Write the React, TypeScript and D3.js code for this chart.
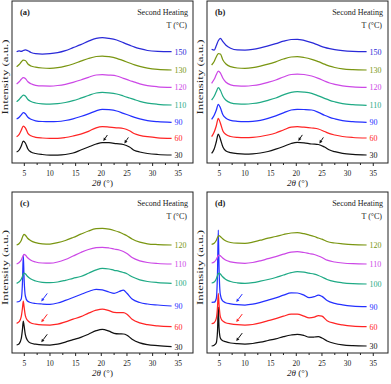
import React from "react";
import * as d3 from "d3";

const W = 391;
const H = 384;
const FONT = "'Liberation Serif', 'Times New Roman', serif";

// 2θ sample positions
const gridAB = [3.5, 4.0, 4.4, 4.8, 5.2, 5.7, 6.3, 7.2, 8.5, 10, 11.5, 13, 14.5, 16, 17.5, 19, 20.2, 21.5, 23, 24.3, 25.5, 26.5, 27.5, 29, 31, 33.7];
const gridCD = [3.5, 4.0, 4.4, 4.65, 4.8, 4.95, 5.2, 5.6, 6.2, 7.2, 8.5, 10, 11.5, 13, 14.5, 16, 17.5, 19, 20.2, 21.5, 22.5, 23.5, 24.3, 25, 26, 27.5, 29, 31, 33.7];

const tempsAB = ["30", "60", "90", "110", "120", "130", "150"];
const tempsCD = ["30", "60", "90", "100", "110", "120"];

const BLACK = "#111111";
const RED = "#ff2424";
const BLUE = "#2430ff";
const TEAL = "#1faa85";
const MAGENTA = "#cc48e6";
const OLIVE = "#7a9612";
const BLUE2 = "#2a2ad8";

const colorsAB = [BLACK, RED, BLUE, TEAL, MAGENTA, OLIVE, BLUE2];
const colorsCD = [BLACK, RED, BLUE, TEAL, MAGENTA, OLIVE];

// stacking offsets (a.u.)
const offsetsA = [8, 24.7, 40.7, 58, 75.7, 93, 111.3];
const offsetsB = [8, 25, 40.7, 57.7, 75.7, 93, 111.3];
const offsetsC = [6.3, 26.3, 47, 69.7, 89, 108];
const offsetsD = [7, 26.3, 46.3, 69, 89, 108];

// panel (a) intensities
const a30 = [3, 5, 9, 14, 12, 6, 3, 1.5, 0.5, 0, 0, 0.5, 2, 5, 8, 11, 12.5, 12.3, 11.3, 10.5, 8, 4.5, 3, 1.5, 0.5, 0];
const a60 = [1.6, 4, 8, 12.3, 10.5, 5, 2.5, 1, 0.3, 0, 0, 0.8, 2.3, 4.2, 7, 10.5, 11.6, 11.2, 10.5, 9.8, 7.5, 4.5, 3, 1.6, 0.5, 0];
const a90 = [3.3, 5, 7.5, 9.6, 8.5, 5, 3, 1.5, 0.8, 0.6, 0.8, 1.8, 3.5, 5.8, 8.5, 11.5, 13, 12.6, 11.3, 9, 6.8, 5, 3.5, 1.7, 0.6, 0];
const a110 = [3.3, 5.5, 8, 10, 9, 5.5, 3.5, 2, 1.2, 1, 1.3, 2.5, 4.3, 6.8, 9.5, 12, 12.7, 12.2, 11, 9, 7, 5.3, 3.7, 1.9, 0.7, 0];
const a120 = [3.3, 5.5, 8, 9.6, 8.8, 5.5, 3.5, 2, 1.4, 1.3, 1.8, 3, 5, 7.3, 10, 12.3, 12.6, 12.2, 11.3, 9, 6.8, 5.2, 3.5, 1.6, 0.5, 0];
const a130 = [3.3, 5.5, 8, 9.8, 9.5, 6, 4, 2.8, 2, 1.7, 2.3, 3.8, 6, 8.8, 11.5, 13.5, 14, 13.3, 11.7, 9.3, 7, 5.2, 3.7, 1.9, 0.6, 0];
const a150 = [0, 0.8, 0.3, 1.2, 1.8, 1.0, -0.8, -2.0, -2.3, -2.0, -1, 1, 4, 7, 10.5, 13.3, 14, 13.3, 11.7, 9, 6.5, 4.5, 3, 1.2, 0.3, 0];

// panel (b) intensities
const b30 = [1.7, 6, 13, 21, 16, 8, 4, 2.3, 1.3, 1, 1.2, 2, 3.5, 5.8, 8.5, 11.5, 12.7, 12.2, 11, 10.5, 8, 5, 3.3, 1.7, 0.6, 0];
const b60 = [1.3, 6, 12, 19.7, 15, 7, 3.5, 1.5, 0.6, 0.3, 0.6, 1.5, 3, 5, 8, 10.8, 11.3, 10.8, 10, 9, 6.5, 4.3, 3, 1.5, 0.5, 0];
const b90 = [3, 7, 12, 18, 14.5, 7.5, 4, 2, 1, 0.6, 1, 2, 4, 6.5, 9.5, 12.3, 13, 12.8, 12.3, 10, 7, 5, 3.5, 1.7, 0.6, 0];
const b110 = [5.3, 9, 13.5, 17.6, 15, 9, 5, 2.5, 1.5, 1.3, 1.8, 3, 5, 7.3, 10.5, 13, 13.6, 13.2, 12, 9.5, 7, 5, 3.5, 1.7, 0.6, 0];
const b120 = [4, 8, 12.5, 16.3, 14.5, 9, 5, 2.5, 1.5, 1.3, 1.8, 3, 5, 7.3, 10.3, 12.8, 13.3, 12.8, 11.3, 9, 6.3, 4.3, 3, 1.5, 0.5, 0];
const b130 = [5, 8.5, 13, 16.5, 16, 10, 6, 3.3, 2, 1.7, 2.3, 3.8, 5.8, 8.2, 11, 13, 13.3, 12.5, 10.7, 8.3, 5.8, 3.8, 2.5, 1.2, 0.4, 0];
const b150 = [2.4, 1.5, 6, 11, 13.4, 10, 6.5, 3.5, 1.8, 1.7, 2.3, 3.8, 5.8, 8, 10.5, 12.2, 12.4, 11.3, 9, 6.5, 4.3, 3, 2, 1, 0.3, 0];

// panel (c) intensities
const c30 = [1.7, 3, 8, 18, 25.7, 21, 12, 6.5, 3.7, 2.5, 1.8, 1.7, 2.5, 4.6, 7, 9.3, 12.5, 16, 17.4, 15.5, 13.4, 12.8, 12.7, 11.5, 7.5, 3.8, 2, 1, 0];
const c60 = [3.3, 5, 10, 19, 25.7, 20, 11, 6.5, 4, 2.5, 1.8, 1.7, 2.5, 4.8, 7.5, 10, 13.5, 16.5, 17.7, 16, 14.3, 14, 14, 12.5, 7.5, 3.8, 2, 0.8, 0];
const c90 = [4, 4.5, 7, 25, 51, 28, 10, 5, 3.5, 2.5, 2, 1.7, 3, 5.6, 8.5, 11.5, 14.5, 16.7, 16.2, 14, 12.7, 14.5, 16, 12.7, 7, 3.5, 2, 1, 0];
const c100 = [0, 1.5, 4, 7, 9, 10.3, 9.5, 7, 4.5, 2.3, 1, 0.6, 1.3, 3, 5, 6.8, 10, 13.5, 15, 14.3, 13, 12, 10.8, 9.5, 6.5, 3.5, 1.8, 0.7, 0];
const c110 = [0, 1.5, 4, 7, 8.5, 9.7, 9, 6.5, 4, 2, 1, 0.8, 2, 4.5, 8, 11.5, 14.5, 16.3, 16.7, 16, 15, 14, 12.5, 10.5, 6.5, 3.2, 1.5, 0.5, 0];
const c120 = [0, 1.5, 4.5, 8, 9.8, 10.7, 9.8, 7, 4.5, 2.3, 1.2, 1, 2.3, 4.5, 7.5, 10.8, 14, 16.3, 16.7, 15.8, 14.5, 12.8, 11, 9.3, 6, 2.8, 1.2, 0.4, 0];

// panel (d) intensities
const d30 = [0, 0.8, 3, 15, 39, 18, 8, 5.5, 4.3, 3, 2.3, 2, 2.5, 3.8, 5.5, 7.2, 9.3, 11, 11.7, 10.5, 8.8, 9, 9.3, 8, 5, 2.5, 1.2, 0.4, 0];
const d60 = [3, 4, 8, 20, 33.4, 22, 10, 6, 4, 2.8, 2, 1.7, 2.2, 3.8, 6, 8, 10.5, 12.5, 12.5, 10.5, 8.8, 9.5, 11.2, 10.5, 6, 3.3, 1.8, 0.6, 0];
const d90 = [4.4, 4.5, 8, 35, 76.7, 38, 12, 6, 4, 2.8, 2, 1.7, 2.5, 4.3, 6.5, 8.8, 11.5, 13.8, 13.7, 11.5, 9, 10, 11.7, 10.3, 6.2, 3.3, 1.8, 0.6, 0];
const d100 = [1, 2, 5, 8.5, 10.3, 11, 10, 7.5, 4.8, 2.5, 1.2, 0.7, 1.3, 2.8, 4.5, 6.5, 9, 11.3, 12.3, 11.8, 10.8, 9.8, 8.5, 7, 4.5, 2.3, 1.2, 0.4, 0];
const d110 = [1, 2, 4.5, 7, 8.5, 9, 8.3, 6.3, 4, 2.2, 1.1, 0.7, 1.5, 3.2, 5.3, 7.3, 9.8, 11.8, 12.3, 11.5, 10.5, 9.5, 8, 6.5, 3.8, 2, 1, 0.3, 0];
const d120 = [0.7, 1.8, 4.5, 7.5, 8.8, 9.3, 8.5, 6.5, 4.3, 2.5, 1.8, 1.7, 2.8, 4.8, 6.8, 8.5, 10.5, 12, 12.3, 11.3, 10, 8.5, 7, 5.8, 3.5, 2, 1.2, 0.4, 0];

const majorTicks = [5, 10, 15, 20, 25, 30, 35];
const minorTicks = [7.5, 12.5, 17.5, 22.5, 27.5, 32.5];

// arrow annotations: [series index, 2θ]
const arrowsAB: [number, number][] = [[0, 20.4], [0, 24.5]];
const arrowsCD: [number, number][] = [[0, 8.3], [1, 8.3], [2, 8.3]];

type Panel = {
  id: string;
  left: number;
  top: number;
  right: number;
  bottom: number;
  grid: number[];
  temps: string[];
  colors: string[];
  offsets: number[];
  series: number[][];
  arrows: [number, number][];
  arrowLong: boolean;
};

const panels: Panel[] = [
  { id: "(a)", left: 12, top: 1, right: 193, bottom: 163, grid: gridAB, temps: tempsAB, colors: colorsAB, offsets: offsetsA, series: [a30, a60, a90, a110, a120, a130, a150], arrows: arrowsAB, arrowLong: false },
  { id: "(b)", left: 207, top: 1, right: 388, bottom: 163, grid: gridAB, temps: tempsAB, colors: colorsAB, offsets: offsetsB, series: [b30, b60, b90, b110, b120, b130, b150], arrows: arrowsAB, arrowLong: false },
  { id: "(c)", left: 12, top: 192, right: 193, bottom: 353, grid: gridCD, temps: tempsCD, colors: colorsCD, offsets: offsetsC, series: [c30, c60, c90, c100, c110, c120], arrows: arrowsCD, arrowLong: true },
  { id: "(d)", left: 207, top: 192, right: 388, bottom: 353, grid: gridCD, temps: tempsCD, colors: colorsCD, offsets: offsetsD, series: [d30, d60, d90, d100, d110, d120], arrows: arrowsCD, arrowLong: true },
];

function interp(grid: number[], vals: number[], t: number) {
  for (let i = 0; i < grid.length - 1; i++) {
    if (t >= grid[i] && t <= grid[i + 1]) {
      const f = (t - grid[i]) / (grid[i + 1] - grid[i]);
      return vals[i] + f * (vals[i + 1] - vals[i]);
    }
  }
  return vals[vals.length - 1];
}

function PanelView({ p }: { p: Panel }) {
  const x = d3.scaleLinear().domain([2.6, 37.87]).range([p.left, p.right]);
  const y = d3.scaleLinear().domain([0, p.bottom - p.top]).range([p.bottom, p.top]);
  const line = d3
    .line<[number, number]>()
    .x((d) => x(d[0]))
    .y((d) => y(d[1]))
    .curve(d3.curveMonotoneX);
  const midY = (p.top + p.bottom) / 2 - 5;
  const mid = (p.left + p.right) / 2;
  return (
    <g>
      <rect x={p.left} y={p.top} width={p.right - p.left} height={p.bottom - p.top} fill="none" stroke="#222" strokeWidth={1} />
      {majorTicks.map((t) => (
        <g key={"M" + t}>
          <line x1={x(t)} x2={x(t)} y1={p.bottom} y2={p.bottom + 3} stroke="#222" strokeWidth={1} />
          <text x={x(t)} y={p.bottom + 13} textAnchor="middle" fontSize={7.5} fontFamily={FONT} fill="#222">
            {t}
          </text>
        </g>
      ))}
      {minorTicks.map((t) => (
        <line key={"m" + t} x1={x(t)} x2={x(t)} y1={p.bottom} y2={p.bottom + 2} stroke="#222" strokeWidth={1} />
      ))}
      {p.series.map((vals, i) => {
        const pts: [number, number][] = p.grid.map((t, j) => [t, p.offsets[i] + vals[j]]);
        const last = pts[pts.length - 1];
        return (
          <g key={p.temps[i]}>
            <path d={line(pts) || ""} fill="none" stroke={p.colors[i]} strokeWidth={1.25} strokeLinejoin="round" />
            <text x={x(last[0]) + 3} y={y(last[1]) + 2.8} fontSize={8} fontFamily={FONT} fill={p.colors[i]}>
              {p.temps[i]}
            </text>
          </g>
        );
      })}
      {p.arrows.map(([si, t], k) => {
        const v = p.offsets[si] + interp(p.grid, p.series[si], t);
        const tx = x(t);
        const ty = y(v) - (p.arrowLong ? 2.5 : 1.5);
        const dx = p.arrowLong ? 6 : 4;
        const dy = p.arrowLong ? -8 : -6;
        const len = Math.hypot(dx, dy);
        const ux = dx / len;
        const uy = dy / len;
        const hx = tx + ux * 3.2;
        const hy = ty + uy * 3.2;
        const px = -uy * 1.6;
        const py = ux * 1.6;
        return (
          <g key={"ar" + k}>
            <line x1={hx} y1={hy} x2={tx + dx} y2={ty + dy} stroke={p.colors[si]} strokeWidth={1} />
            <path d={`M${tx},${ty} L${hx + px},${hy + py} L${hx - px},${hy - py} Z`} fill={p.colors[si]} />
          </g>
        );
      })}
      <text x={p.left + 8} y={p.top + 14} fontSize={8.5} fontWeight="bold" fontFamily={FONT} fill="#222">
        {p.id}
      </text>
      <text x={p.left + 176} y={p.top + 14} textAnchor="end" fontSize={8} fontFamily={FONT} fill="#222">
        Second Heating
      </text>
      <text x={p.left + 175} y={p.top + 27} textAnchor="end" fontSize={8} fontFamily={FONT} fill="#222">
        T (°C)
      </text>
      <text
        transform={`translate(${p.left - 3.7},${midY}) rotate(-90)`}
        textAnchor="middle"
        fontSize={9}
        fontFamily={FONT}
        fill="#222"
        textLength={75}
        lengthAdjust="spacingAndGlyphs"
      >
        Intensity (a.u.)
      </text>
      <text x={mid} y={p.bottom + 23} textAnchor="middle" fontSize={9} fontFamily={FONT} fill="#222">
        <tspan fontStyle="italic">2θ</tspan>
        <tspan> (°)</tspan>
      </text>
    </g>
  );
}

export default function App() {
  return (
    <svg
      width={W}
      height={H}
      viewBox={`0 0 ${W} ${H}`}
      style={{ position: "absolute", left: 0, top: 0, background: "#fff" }}
    >
      <rect x={0} y={0} width={W} height={H} fill="#fff" />
      {panels.map((p) => (
        <PanelView key={p.id} p={p} />
      ))}
    </svg>
  );
}
